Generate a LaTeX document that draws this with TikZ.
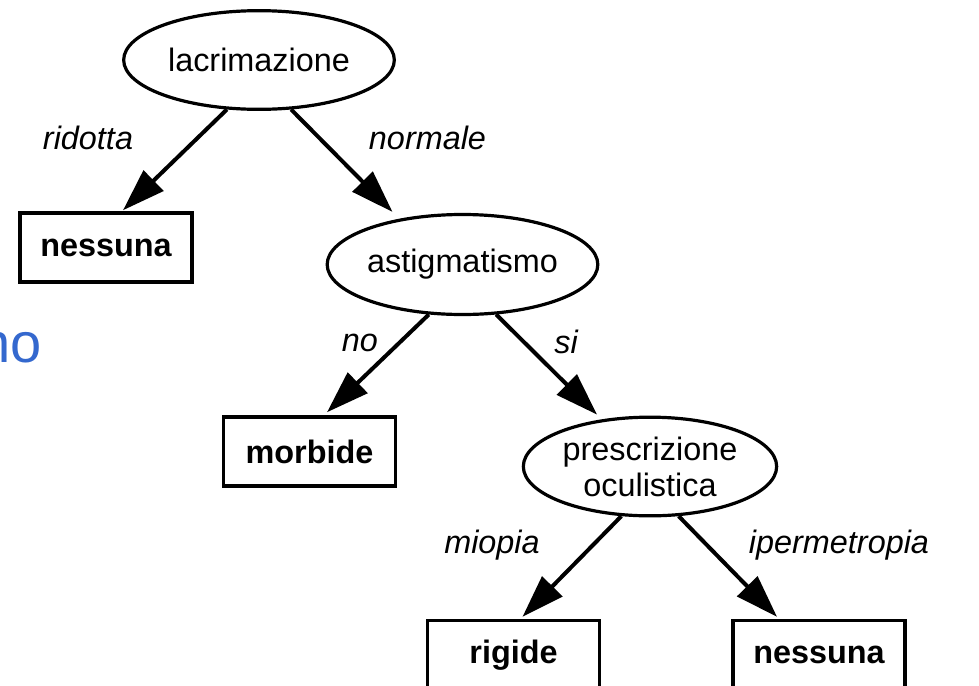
\documentclass[tikz,border=0pt]{standalone}
\usepackage{fontspec}
\setmainfont{Liberation Sans}
\usepackage{tikz}
\usetikzlibrary{arrows.meta,calc,shapes.geometric}
\definecolor{slideblue}{RGB}{52,104,206}

\begin{document}
\begin{tikzpicture}[x=0.75pt,y=-0.75pt,
  every node/.style={font=\fontsize{24.3}{27}\selectfont},
  test/.style={draw,ellipse,line width=2.4pt,inner sep=0pt,align=center,minimum width=#1},
  leaf/.style={draw,rectangle,line width=2.6pt,inner sep=0pt,minimum width=129pt,minimum height=51.75pt,font=\fontsize{24.3}{27}\selectfont\bfseries},
  val/.style={font=\fontsize{24.3}{27}\selectfont\itshape},
  edge/.style={-{Triangle[length=32pt,width=21pt]},line width=3pt}]
  \useasboundingbox (0,0) rectangle (979,686);
  \clip (0,0) rectangle (979,686);
  % nodi di test
  \node[test=203pt,minimum height=74pt] (lac) at (259,60) {lacrimazione};
  \node[test=203pt,minimum height=75pt] (ast) at (462.5,264.5) {astigmatismo};
  \node[test=190pt,minimum height=74pt] (pre) at (650,466.5) {prescrizione\\oculistica};
  % foglie
  \node[leaf] (nes1) at (106,247.5) {nessuna};
  \node[leaf] (mor) at (309.5,451.5) {morbide};
  \node[leaf] (rig) at (513.5,655) {rigide};
  \node[leaf] (nes2) at (819,655) {nessuna};
  % valori
  \node[val] (vrid) at (88,138) {ridotta};
  \node[val] (vnor) at (427.5,138) {normale};
  \node[val] (vno) at (360,343) {no};
  \node[val] (vsi) at (566,342) {si};
  \node[val] (vmio) at (492,545) {miopia};
  \node[val] (vipe) at (839,545) {ipermetropia};
  \node[font=\fontsize{42}{48}\selectfont,text=slideblue,anchor=base east,inner sep=0pt] (taglio) at (42,362) {no};
  % archi
  \draw[edge] (lac.237) -- ($(nes1.north)+(17,-1)$);
  \draw[edge] (lac.303) -- ($(ast.north)+(-70,-1)$);
  \draw[edge] (ast.236) -- ($(mor.north)+(17.5,-3)$);
  \draw[edge] (ast.304) -- ($(pre.north)+(-53,-1)$);
  \draw[edge] (pre.240) -- ($(rig.north)+(9,-2)$);
  \draw[edge] (pre.300) -- ($(nes2.north)+(-42,-2)$);
\end{tikzpicture}
\end{document}
